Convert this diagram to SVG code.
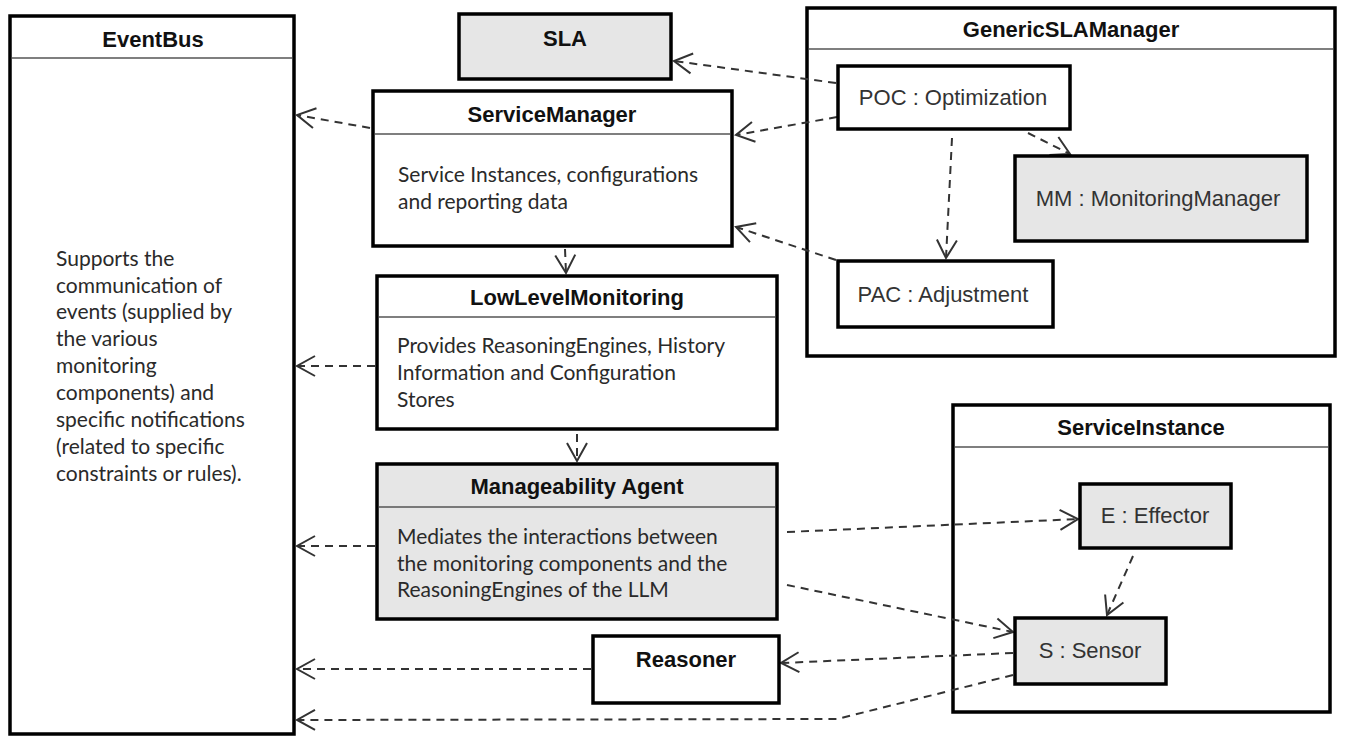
<svg xmlns="http://www.w3.org/2000/svg" width="1346" height="738" viewBox="0 0 1346 738">
<style>
.box{fill:#fff;stroke:#000;stroke-width:3.5}
.grey{fill:#e6e6e6}
.sep{stroke:#555;stroke-width:1.5}
.title{font-family:"Liberation Sans",Arial,sans-serif;font-weight:bold;font-size:22px;fill:#111;text-anchor:middle}
.lbl{font-family:"Liberation Sans",Arial,sans-serif;font-size:22px;fill:#333;text-anchor:middle}
.body{font-family:Lato,"Open Sans",sans-serif;font-size:21px;fill:#2a2a2a}
.conn{fill:none;stroke:#333;stroke-width:2;stroke-dasharray:8 6}
</style>
<defs>
<marker id="open" markerUnits="userSpaceOnUse" markerWidth="26" markerHeight="26" refX="21" refY="12" orient="auto">
<path d="M3,2 L21,12 L3,22" fill="none" stroke="#333" stroke-width="2" stroke-dasharray="none"/>
</marker>
</defs>
<g id="EventBus">
<rect class="box" x="10" y="16" width="284" height="718"/>
<line class="sep" x1="12" y1="58" x2="292" y2="58"/>
<text class="title" x="153" y="47">EventBus</text>
<text class="body" x="56"><tspan x="56" y="266">Supports the</tspan><tspan x="56" y="293">communication of</tspan><tspan x="56" y="319">events (supplied by</tspan><tspan x="56" y="346">the various</tspan><tspan x="56" y="373">monitoring</tspan><tspan x="56" y="400">components) and</tspan><tspan x="56" y="427">specific notifications</tspan><tspan x="56" y="454">(related to specific</tspan><tspan x="56" y="481">constraints or rules).</tspan></text>
</g>
<g id="GenericSLAManager">
<rect class="box" x="807" y="8" width="528" height="348"/>
<line class="sep" x1="809" y1="49" x2="1333" y2="49"/>
<text class="title" x="1071" y="37">GenericSLAManager</text>
</g>
<g id="ServiceInstance">
<rect class="box" x="953" y="405" width="377" height="307"/>
<line class="sep" x1="955" y1="447" x2="1328" y2="447"/>
<text class="title" x="1141" y="435">ServiceInstance</text>
</g>
<g id="connectors">
<path class="conn" d="M370,128 L297,115" marker-end="url(#open)"/>
<path class="conn" d="M836,83 L674,61" marker-end="url(#open)"/>
<path class="conn" d="M837,117 L736,135" marker-end="url(#open)"/>
<path class="conn" d="M836,260 L736,227" marker-end="url(#open)"/>
<path class="conn" d="M565,249 L566,273" marker-end="url(#open)"/>
<path class="conn" d="M577,434 L577,461" marker-end="url(#open)"/>
<path class="conn" d="M375,366 L297,366" marker-end="url(#open)"/>
<path class="conn" d="M375,546 L297,546" marker-end="url(#open)"/>
<path class="conn" d="M591,669 L297,669" marker-end="url(#open)"/>
<path class="conn" d="M1013,675 L837,719 L297,720" marker-end="url(#open)"/>
<path class="conn" d="M787,532 L1078,519" marker-end="url(#open)"/>
<path class="conn" d="M787,585 L1013,632" marker-end="url(#open)"/>
<path class="conn" d="M1133,556 L1107,615" marker-end="url(#open)"/>
<path class="conn" d="M1013,653 L781,663" marker-end="url(#open)"/>
<path class="conn" d="M952,138 L946,258" marker-end="url(#open)"/>
<path class="conn" d="M1028,133 L1070,154" marker-end="url(#open)"/>
</g>
<g id="SLA">
<rect class="box grey" x="459" y="14" width="212" height="65"/>
<text class="title" x="565" y="46">SLA</text>
</g>
<g id="ServiceManager">
<rect class="box" x="373" y="91" width="359" height="155"/>
<line class="sep" x1="375" y1="134" x2="730" y2="134"/>
<text class="title" x="552" y="122">ServiceManager</text>
<text class="body"><tspan x="398" y="182">Service Instances, configurations</tspan><tspan x="398" y="209">and reporting data</tspan></text>
</g>
<g id="LowLevelMonitoring">
<rect class="box" x="377" y="276" width="400" height="153"/>
<line class="sep" x1="379" y1="317" x2="775" y2="317"/>
<text class="title" x="577" y="305">LowLevelMonitoring</text>
<text class="body"><tspan x="397" y="353">Provides ReasoningEngines, History</tspan><tspan x="397" y="380">Information and Configuration</tspan><tspan x="397" y="407">Stores</tspan></text>
</g>
<g id="ManageabilityAgent">
<rect class="box grey" x="377" y="464" width="400" height="155"/>
<line class="sep" x1="379" y1="507" x2="775" y2="507"/>
<text class="title" x="577" y="494">Manageability Agent</text>
<text class="body"><tspan x="397" y="544">Mediates the interactions between</tspan><tspan x="397" y="571">the monitoring components and the</tspan><tspan x="397" y="597">ReasoningEngines of the LLM</tspan></text>
</g>
<g id="Reasoner">
<rect class="box" x="593" y="636" width="186" height="67"/>
<text class="title" x="686" y="667">Reasoner</text>
</g>
<g id="POC">
<rect class="box" x="838" y="66" width="232" height="63"/>
<text class="lbl" x="953" y="105">POC : Optimization</text>
</g>
<g id="MM">
<rect class="box grey" x="1015" y="156" width="292" height="85"/>
<text class="lbl" x="1158" y="206">MM : MonitoringManager</text>
</g>
<g id="PAC">
<rect class="box" x="838" y="261" width="215" height="66"/>
<text class="lbl" x="943" y="302">PAC : Adjustment</text>
</g>
<g id="Effector">
<rect class="box grey" x="1080" y="484" width="151" height="64"/>
<text class="lbl" x="1155" y="523">E : Effector</text>
</g>
<g id="Sensor">
<rect class="box grey" x="1015" y="618" width="151" height="66"/>
<text class="lbl" x="1090" y="658">S : Sensor</text>
</g>
</svg>
